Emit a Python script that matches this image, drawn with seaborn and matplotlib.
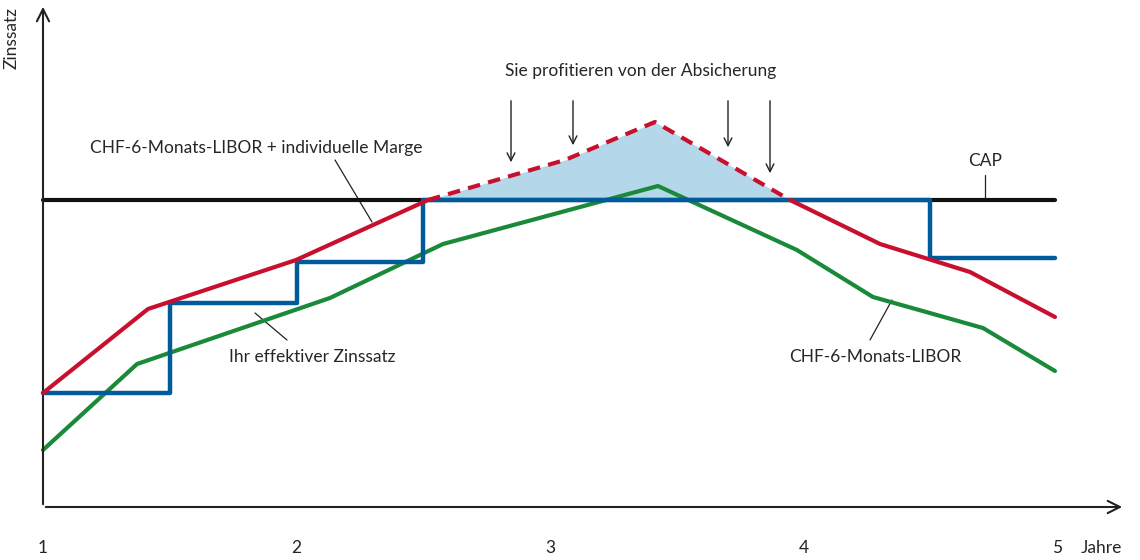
import numpy as np
import pandas as pd
import matplotlib
matplotlib.use("Agg")
import matplotlib.pyplot as plt
import seaborn as sns

# years on x, rate in arbitrary units (no y ticks in the original)
red_x = [1.0, 1.414, 1.998, 2.519, 3.059, 3.414, 3.947, 4.302, 4.657, 4.992]
red_y = [114, 198, 247, 307, 347, 385, 307, 263, 235, 190]
green_x = [1.0, 1.371, 2.132, 2.578, 3.426, 3.974, 4.274, 4.708, 4.992]
green_y = [57, 143, 209, 263, 321, 257, 210, 179, 136]
blue_x = [1.0, 1.5, 2.0, 2.5, 4.5, 4.992]
blue_y = [114, 204, 245, 307, 249, 249]
cap = 307
tick_years = [1, 2, 3, 4, 5]

RED, GREEN, BLUE, FILL = "#c8102e", "#1a8a3a", "#005b9a", "#b4d8ea"

sns.set_style("white")
plt.rcParams["font.family"] = "Lato"
fig = plt.figure(figsize=(11.4, 5.6), dpi=100)
ax = fig.add_axes([0, 0, 1, 1])
ax.set_xlim(1 - 43 / 253.5, 1 + 1097 / 253.5)
ax.set_ylim(-53, 507)
ax.axis("off")

red = pd.DataFrame({"x": red_x, "y": red_y})
green = pd.DataFrame({"x": green_x, "y": green_y})

# shaded area where the cap protects
xs = np.linspace(red_x[3], red_x[6], 200)
ry = np.interp(xs, red_x, red_y)
ax.fill_between(xs, cap, ry, color=FILL, lw=0, zorder=1)

sns.lineplot(data=green, x="x", y="y", color=GREEN, lw=3, ax=ax, zorder=3)
ax.plot([1, 4.992], [cap, cap], color="#111111", lw=3, zorder=3)
ax.plot(blue_x, blue_y, drawstyle="steps-post", color=BLUE, lw=3.2, zorder=4)
sns.lineplot(data=red.iloc[:4], x="x", y="y", color=RED, lw=3, ax=ax, zorder=5)
sns.lineplot(data=red.iloc[3:7], x="x", y="y", color=RED, lw=3, ax=ax, zorder=5,
             linestyle=(0, (3, 2)))
sns.lineplot(data=red.iloc[6:], x="x", y="y", color=RED, lw=3, ax=ax, zorder=5)
ax.set_xlabel("")
ax.set_ylabel("")

def px(x):
    return 1 + (x - 43) / 253.5

# axes with arrows
arr = dict(arrowstyle="->", color="#222222", lw=1.5, mutation_scale=22)
ax.annotate("", xy=(px(1125), 0), xytext=(1, 0), arrowprops=arr)
ax.annotate("", xy=(1, 503), xytext=(1, 0), arrowprops=arr)
fs = 12.5
for t in tick_years:
    ax.text(t, -41, str(t), ha="center", va="center", fontsize=fs, color="#222222")
ax.text(px(1081), -41, "Jahre", ha="left", va="center", fontsize=fs)
ax.text(px(12), 500, "Zinssatz", rotation=90, ha="center", va="top", fontsize=fs)

ax.text(px(641), 507 - 71, "Sie profitieren von der Absicherung", ha="center", va="center", fontsize=fs)
small = dict(arrowstyle="->", color="#222222", lw=1, mutation_scale=14)
for x, yend in [(511, 165), (573, 148), (728, 150), (770, 176)]:
    ax.annotate("", xy=(px(x), 507 - yend), xytext=(px(x), 507 - 98), arrowprops=small)

ax.text(px(256), 507 - 148, "CHF-6-Monats-LIBOR + individuelle Marge", ha="center", va="center", fontsize=fs)
ax.plot([px(335), px(372)], [507 - 160, 507 - 222], color="#222222", lw=0.9)
ax.text(px(312), 507 - 357, "Ihr effektiver Zinssatz", ha="center", va="center", fontsize=fs)
ax.plot([px(255), px(287)], [507 - 313, 507 - 340], color="#222222", lw=0.9)
ax.text(px(875), 507 - 357, "CHF-6-Monats-LIBOR", ha="center", va="center", fontsize=fs)
ax.plot([px(870), px(892)], [507 - 340, 507 - 300], color="#222222", lw=0.9)
ax.text(px(985), 507 - 161, "CAP", ha="center", va="center", fontsize=fs)
ax.plot([px(985), px(985)], [507 - 175, 507 - 200], color="#222222", lw=0.9)

fig.savefig("out.png", dpi=100)
